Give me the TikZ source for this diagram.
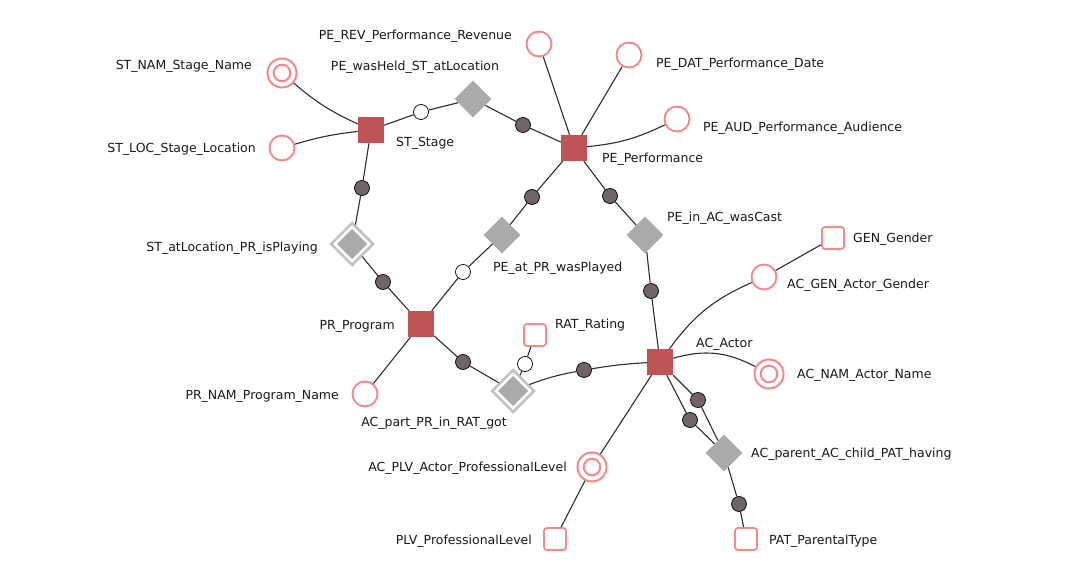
\documentclass[tikz,border=0pt]{standalone}
\usepackage{fontspec}
\setmainfont{DejaVu Sans}
\usetikzlibrary{shapes.geometric}
\definecolor{entred}{RGB}{190,84,84}
\definecolor{pinkc}{RGB}{242,138,138}
\definecolor{diagray}{RGB}{170,170,170}
\definecolor{ddgray}{RGB}{192,192,192}
\definecolor{darkc}{RGB}{112,100,102}
\definecolor{edgec}{RGB}{45,45,45}
\definecolor{textc}{RGB}{25,25,25}
\begin{document}
\begin{tikzpicture}[x=1pt,y=-1pt,
 ent/.style={rectangle,fill=entred,minimum size=26pt,inner sep=0pt},
 attr/.style={circle,draw=pinkc,line width=1.9pt,fill=white,minimum size=25pt,inner sep=0pt},
 keyattr/.style={circle,draw=pinkc,line width=2pt,fill=white,minimum size=29pt,inner sep=0pt,
   path picture={\draw[pinkc,line width=2pt] (path picture bounding box.center) circle[radius=8.3pt];}},
 dom/.style={rectangle,rounded corners=3pt,draw=pinkc,line width=1.8pt,fill=white,minimum size=22pt,inner sep=0pt},
 rel/.style={diamond,fill=diagray,minimum size=37pt,inner sep=0pt},
 wrel/.style={diamond,draw=ddgray,line width=2.5pt,fill=white,minimum size=43pt,inner sep=0pt,
   path picture={\fill[diagray] ([yshift=15pt]path picture bounding box.center) -- ++(15pt,-15pt) -- ++(-15pt,-15pt) -- ++(-15pt,15pt) -- cycle;}},
 dk/.style={circle,draw=black,line width=0.7pt,fill=darkc,minimum size=15pt,inner sep=0pt},
 wh/.style={circle,draw=black,line width=0.7pt,fill=white,minimum size=15pt,inner sep=0pt},
 lab/.style={inner sep=0pt,text height=9.1pt,text depth=0pt,text=textc,font=\fontsize{12.5}{15}\selectfont},
 conn/.style={draw=edgec,line width=1.1pt}
]
\useasboundingbox (0,0) rectangle (1080,575);
% entities
\node[ent] (st) at (371,130) {};
\node[ent] (pe) at (574,148) {};
\node[ent] (pr) at (421,324) {};
\node[ent] (ac) at (660,362) {};
% attributes
\node[keyattr] (stnam) at (282,73) {};
\node[attr] (stloc) at (282,148) {};
\node[attr] (perev) at (539,44) {};
\node[attr] (pedat) at (629,55) {};
\node[attr] (peaud) at (677,119) {};
\node[attr] (prnam) at (365,394) {};
\node[attr] (acgen) at (764,277) {};
\node[keyattr] (acnam) at (769,374) {};
\node[keyattr] (acplv) at (592,467) {};
% domains
\node[dom] (rat) at (535,335) {};
\node[dom] (gen) at (833,238) {};
\node[dom] (plv) at (555,539) {};
\node[dom] (pat) at (746,539) {};
% relationships
\node[rel] (peheld) at (473,99) {};
\node[wrel] (stat) at (352,244) {};
\node[rel] (peat) at (502,235) {};
\node[rel] (pein) at (645,235) {};
\node[wrel] (acpart) at (513,391) {};
\node[rel] (acpar) at (724,453) {};
% role circles
\node[wh] (w1) at (421,112) {};
\node[dk] (d1) at (523,125) {};
\node[dk] (d2) at (362,188) {};
\node[dk] (d3) at (383,282) {};
\node[dk] (d4) at (532,197) {};
\node[wh] (w2) at (463,272) {};
\node[dk] (d5) at (610,196) {};
\node[dk] (d6) at (651,291) {};
\node[dk] (d7) at (463,362) {};
\node[dk] (d8) at (584,370) {};
\node[wh] (w3) at (525,364) {};
\node[dk] (d9) at (698,400) {};
\node[dk] (d10) at (690,420) {};
\node[dk] (d11) at (739,504) {};
% connectors
\draw[conn] (stnam) to[bend right=8] (st);
\draw[conn] (stloc) to[bend left=5] (st);
\draw[conn] (st) edge (w1) (w1) edge (peheld) (peheld) edge (d1) (d1) edge (pe);
\draw[conn] (st) edge (d2) (d2) edge (stat) (stat) edge (d3) (d3) edge (pr);
\draw[conn] (pe) edge (d4) (d4) edge (peat) (peat) edge (w2) (w2) edge (pr);
\draw[conn] (pe) edge (d5) (d5) edge (pein) (pein) edge (d6) (d6) edge (ac);
\draw[conn] (perev) -- (pe);
\draw[conn] (pedat) -- (pe);
\draw[conn] (pe) to[bend right=10] (peaud);
\draw[conn] (pr) -- (prnam);
\draw[conn] (pr) edge (d7) (d7) edge (acpart) (acpart) edge[bend left=5] (d8) (d8) edge[bend left=3] (ac);
\draw[conn] (acpart) edge (w3) (w3) edge (rat);
\draw[conn] (ac) to[bend left=15] (acgen);
\draw[conn] (acgen) -- (gen);
\draw[conn] (ac) to[bend left=22] (acnam);
\draw[conn] (ac) -- (acplv);
\draw[conn] (acplv) -- (plv);
\draw[conn] (ac) edge (d9) (d9) edge (acpar);
\draw[conn] (ac) edge (d10) (d10) edge (acpar);
\draw[conn] (acpar) edge (d11) (d11) edge (pat);
% labels
\node[lab,anchor=east] (l_stnam) at (252,65) {ST\_NAM\_Stage\_Name};
\node[lab,anchor=east] (l_perev) at (512,35) {PE\_REV\_Performance\_Revenue};
\node[lab] (l_peheld) at (415,66) {PE\_wasHeld\_ST\_atLocation};
\node[lab,anchor=east] (l_stloc) at (256,148) {ST\_LOC\_Stage\_Location};
\node[lab,anchor=west] (l_st) at (396,142) {ST\_Stage};
\node[lab,anchor=west] (l_pedat) at (656,63) {PE\_DAT\_Performance\_Date};
\node[lab,anchor=west] (l_peaud) at (703,127) {PE\_AUD\_Performance\_Audience};
\node[lab,anchor=west] (l_pe) at (602,158) {PE\_Performance};
\node[lab,anchor=west] (l_pein) at (667,217) {PE\_in\_AC\_wasCast};
\node[lab,anchor=east] (l_stat) at (318,247) {ST\_atLocation\_PR\_isPlaying};
\node[lab,anchor=west] (l_peat) at (493,267) {PE\_at\_PR\_wasPlayed};
\node[lab,anchor=west] (l_gen) at (853,238) {GEN\_Gender};
\node[lab,anchor=west] (l_acgen) at (787,284) {AC\_GEN\_Actor\_Gender};
\node[lab,anchor=west] (l_rat) at (555,324) {RAT\_Rating};
\node[lab,anchor=east] (l_pr) at (395,325) {PR\_Program};
\node[lab,anchor=west] (l_ac) at (696,343) {AC\_Actor};
\node[lab,anchor=west] (l_acnam) at (797,374) {AC\_NAM\_Actor\_Name};
\node[lab,anchor=east] (l_prnam) at (339,395) {PR\_NAM\_Program\_Name};
\node[lab] (l_acpart) at (434,422) {AC\_part\_PR\_in\_RAT\_got};
\node[lab,anchor=east] (l_acplv) at (567,467) {AC\_PLV\_Actor\_ProfessionalLevel};
\node[lab,anchor=west] (l_acpar) at (751,453) {AC\_parent\_AC\_child\_PAT\_having};
\node[lab,anchor=east] (l_plv) at (532,540) {PLV\_ProfessionalLevel};
\node[lab,anchor=west] (l_pat) at (769,540) {PAT\_ParentalType};
\end{tikzpicture}
\end{document}
